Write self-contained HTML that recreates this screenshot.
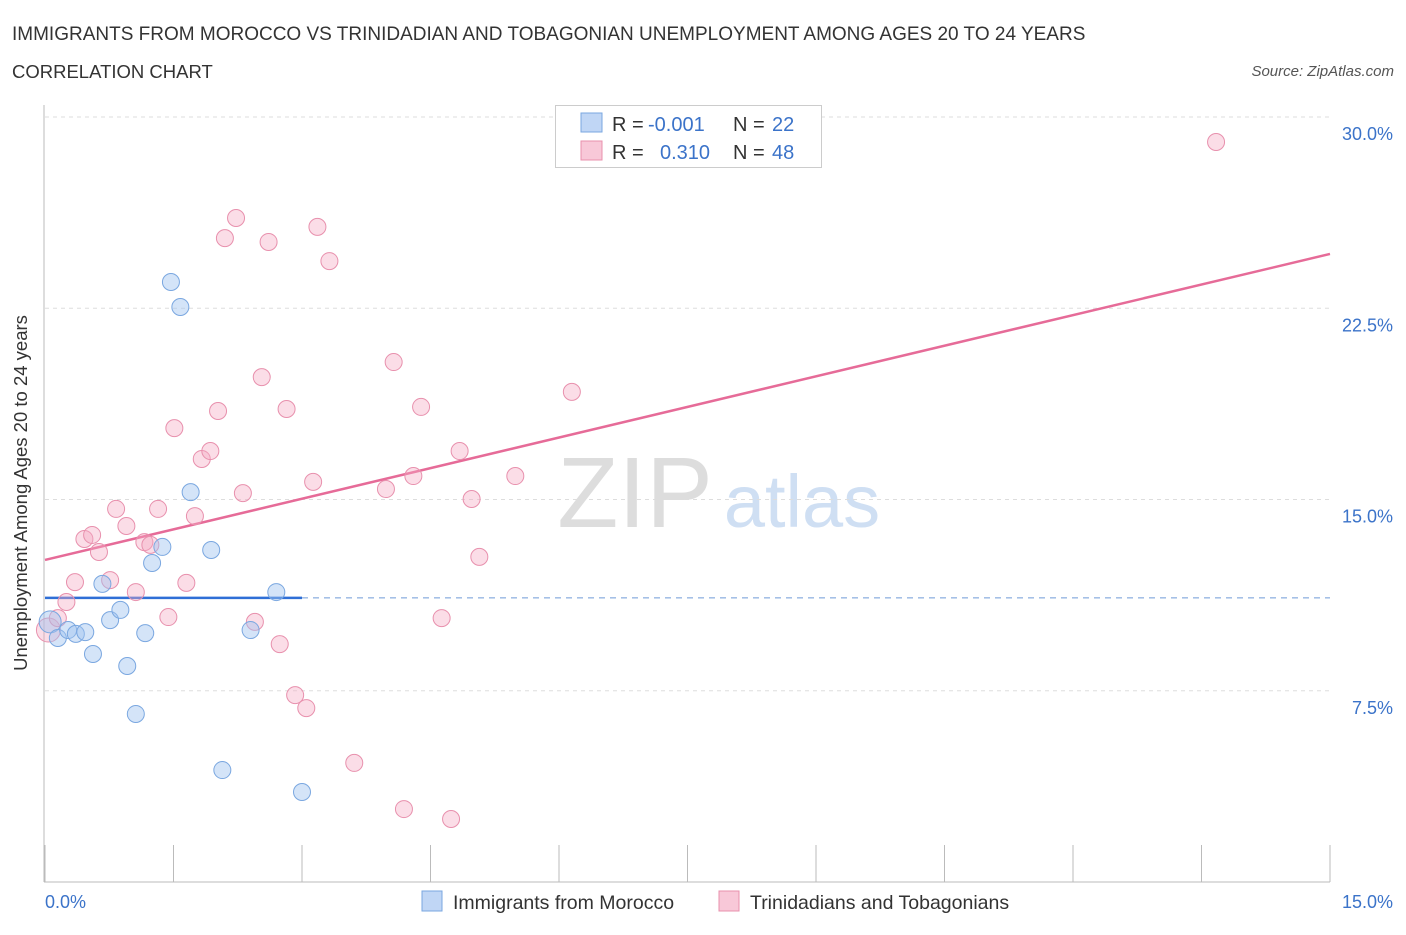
<!DOCTYPE html>
<html><head><meta charset="utf-8"><style>
body{margin:0;background:#fff;font-family:"Liberation Sans",sans-serif;}
svg text{font-family:"Liberation Sans",sans-serif;}
</style></head><body>
<svg id="chart" width="1406" height="930" viewBox="0 0 1406 930">
<text x="12" y="40" font-size="19" fill="#333">IMMIGRANTS FROM MOROCCO VS TRINIDADIAN AND TOBAGONIAN UNEMPLOYMENT AMONG AGES 20 TO 24 YEARS</text>
<text x="12" y="78" font-size="18.5" fill="#333">CORRELATION CHART</text>
<text x="1394" y="76" font-size="15" fill="#555" font-style="italic" text-anchor="end">Source: ZipAtlas.com</text>
<g>
<text x="635" y="527" font-size="100" fill="#ddd" text-anchor="middle" font-family="Liberation Serif">ZIP</text>
<text x="802" y="527" font-size="74" fill="#cfdff3" text-anchor="middle">atlas</text>
</g>
<g id="grid"></g>
<g id="axes"></g>
<g id="trend"></g>
<g id="points"></g>
<g>
<rect x="555.5" y="105.5" width="266" height="62" fill="#fff" stroke="#ccc"/>
<rect x="581" y="113" width="21" height="19" fill="#c0d6f5" stroke="#7aa7e0"/>
<rect x="581" y="141" width="21" height="19" fill="#f8c8d8" stroke="#e890ad"/>
<text x="612" y="131" font-size="20" fill="#333">R = </text><text x="648" y="131" font-size="20" fill="#3b73c9">-0.001</text>
<text x="733" y="131" font-size="20" fill="#333">N = </text><text x="772" y="131" font-size="20" fill="#3b73c9">22</text>
<text x="612" y="159" font-size="20" fill="#333">R = </text><text x="660" y="159" font-size="20" fill="#3b73c9">0.310</text>
<text x="733" y="159" font-size="20" fill="#333">N = </text><text x="772" y="159" font-size="20" fill="#3b73c9">48</text>
</g>
<g>
<rect x="422" y="891" width="20" height="20" fill="#c0d6f5" stroke="#7aa7e0"/>
<text x="453" y="909" font-size="19.5" fill="#333">Immigrants from Morocco</text>
<rect x="719" y="891" width="20" height="20" fill="#f8c8d8" stroke="#e890ad"/>
<text x="750" y="909" font-size="19.5" fill="#333">Trinidadians and Tobagonians</text>
</g>
<text x="27" y="493" font-size="18.5" fill="#333" text-anchor="middle" transform="rotate(-90 27 493)">Unemployment Among Ages 20 to 24 years</text>
</svg>
<script>
const yTicks=[7.5,15,22.5,30];
const yTickLabels=["7.5%","15.0%","22.5%","30.0%"];
const xTickLabels=["0.0%","15.0%"];
const blueX=[0.06,0.15,0.27,0.36,0.47,0.56,0.67,0.76,0.88,0.96,1.06,1.17,1.25,1.37,1.47,1.58,1.70,1.94,2.07,2.40,2.70,3.00];
const blueY=[10.2,9.57,9.88,9.73,9.80,8.94,11.69,10.27,10.67,8.47,6.59,9.76,12.51,13.14,23.53,22.55,15.29,13.02,4.39,9.88,11.37,3.53];
const pinkX=[0.04,0.15,0.25,0.35,0.46,0.55,0.63,0.76,0.83,0.95,1.06,1.16,1.23,1.32,1.44,1.51,1.65,1.75,1.83,1.93,2.02,2.10,2.23,2.31,2.45,2.53,2.61,2.74,2.82,2.92,3.05,3.13,3.18,3.32,3.61,3.98,4.07,4.19,4.30,4.39,4.63,4.74,4.84,4.98,5.07,5.49,6.15,13.67];
const pinkY=[9.88,10.35,10.98,11.76,13.45,13.61,12.94,11.84,14.63,13.96,11.37,13.33,13.22,14.63,10.39,17.80,11.73,14.35,16.59,16.90,18.47,25.25,26.04,15.25,10.20,19.80,25.10,9.33,18.55,7.33,6.82,15.69,25.69,24.35,4.67,15.41,20.39,2.86,15.92,18.63,10.35,2.47,16.90,15.02,12.75,15.92,19.22,29.02];
const blueTrend=[11.14,0.0];
const blueTrendEnd=3.0;
const pinkTrend=[12.63,0.8];
const NS="http://www.w3.org/2000/svg";
const xs=v=>45+v*1285/15;
const ys=v=>882-v*765/30;
function mk(tag,attrs,parent){const e=document.createElementNS(NS,tag);for(const k in attrs)e.setAttribute(k,attrs[k]);parent.appendChild(e);return e;}
const grid=document.getElementById('grid'),axes=document.getElementById('axes'),trend=document.getElementById('trend'),pts=document.getElementById('points');
yTicks.forEach((t,i)=>{
 const l=mk('line',{x1:45,x2:1330,y1:ys(t),y2:ys(t),stroke:'#ddd','stroke-dasharray':'4,4'},grid);
 
 
 const tx=mk('text',{x:1393,y:ys(t)+23,'font-size':18,fill:'#3b73c9','text-anchor':'end'},axes);
 tx.textContent=yTickLabels[i];
 
 
});
mk('line',{x1:44,x2:44,y1:105,y2:882,stroke:'#bbb'},axes);
mk('line',{x1:44,x2:1330,y1:882,y2:882,stroke:'#bbb'},axes);
for(let k=0;k<=10;k++){const x=xs(k*1.5);mk('line',{x1:x,x2:x,y1:845,y2:882,stroke:'#bbb'},axes);}
[0,15].forEach((v,i)=>{
 const tx=mk('text',{x:i?1393:45,y:908,'font-size':18,fill:'#3b73c9','text-anchor':i?'end':'start'},axes);
 tx.textContent=xTickLabels[i];
 
 
});
let t1=mk('line',{x1:xs(0),x2:xs(blueTrendEnd),y1:ys(blueTrend[0]),y2:ys(blueTrend[0]+blueTrend[1]*blueTrendEnd),stroke:'#2f6fd6','stroke-width':2.5},trend);


let t2=mk('line',{x1:xs(blueTrendEnd),x2:xs(15),y1:ys(blueTrend[0]),y2:ys(blueTrend[0]+blueTrend[1]*15),stroke:'#6f9ad8','stroke-dasharray':'6,5'},trend);


let t3=mk('line',{x1:xs(0),x2:xs(15),y1:ys(pinkTrend[0]),y2:ys(pinkTrend[0]+pinkTrend[1]*15),stroke:'#e66b98','stroke-width':2.5},trend);


pinkX.forEach((x,i)=>{
 const c=mk('circle',{cx:xs(x),cy:ys(pinkY[i]),r:i==0?12:8.5,fill:'rgba(245,170,195,0.4)',stroke:'#e890ad'},pts);
 
 
});
blueX.forEach((x,i)=>{
 const c=mk('circle',{cx:xs(x),cy:ys(blueY[i]),r:i==0?11:8.5,fill:'rgba(160,195,240,0.45)',stroke:'#7aa7e0'},pts);
 
 
});
</script>
</body></html>
